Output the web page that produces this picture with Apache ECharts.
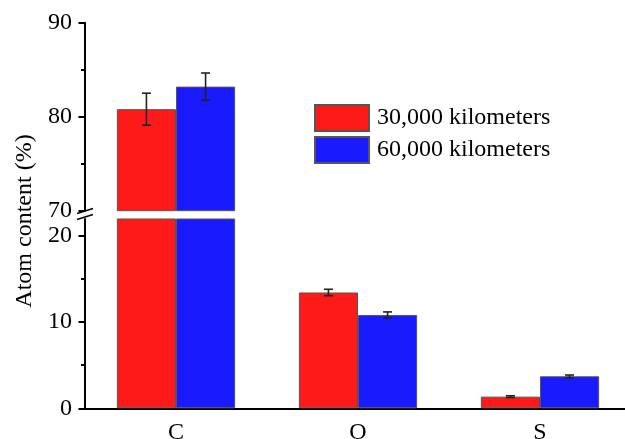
<!DOCTYPE html>
<html>
<head>
<meta charset="utf-8">
<script src="https://cdn.jsdelivr.net/npm/echarts@6/dist/echarts.min.js"></script>
<style>
html,body{margin:0;padding:0;background:#fff;}
#chart{width:625px;height:439px;}
</style>
</head>
<body>
<div id="chart"></div>
<script>
const categories = ['C', 'O', 'S'];
const seriesNames = ['30,000 kilometers', '60,000 kilometers'];
const values30 = [80.8, 13.4, 1.35];
const values60 = [83.2, 10.8, 3.7];
const err30 = [1.7, 0.37, 0.1];
const err60 = [1.45, 0.35, 0.15];
const upperTicks = [70, 80, 90];
const lowerTicks = [0, 10, 20];
const lowerMinorTicks = [5, 15];
const upperMin = 70, upperMax = 90;
const lowerMin = 0, lowerMax = 21.9;

const FONT = "'Liberation Serif', 'Times New Roman', serif";
const FS = 24;
const RED = '#FF1A1A', BLUE = '#1A1AFF';
const GAP = 0.35;

const chart = echarts.init(document.getElementById('chart'), null, {renderer: 'canvas'});

function errData(vals, errs, sign, lo, hi) {
  const out = [];
  vals.forEach((v, i) => { if (v >= lo && v <= hi) out.push([i, v, errs[i], sign]); });
  return out;
}
function renderErr(params, api) {
  const i = api.value(0), v = api.value(1), e = api.value(2), s = api.value(3);
  const band = api.size([1, 0])[0];
  const c = api.coord([i, v]);
  const cx = c[0] + s * band * (1 - GAP) / 4;
  const yt = api.coord([i, v + e])[1];
  const yb = api.coord([i, v - e])[1];
  const hw = 4.5;
  const st = {stroke: '#222', lineWidth: 1.6};
  return {type: 'group', children: [
    {type: 'line', shape: {x1: cx, y1: yt, x2: cx, y2: yb}, style: st},
    {type: 'line', shape: {x1: cx - hw, y1: yt, x2: cx + hw, y2: yt}, style: st},
    {type: 'line', shape: {x1: cx - hw, y1: yb, x2: cx + hw, y2: yb}, style: st}
  ]};
}

const axisLineStyle = {color: '#000', width: 2};
const labelStyle = {color: '#000', fontFamily: FONT, fontSize: FS};
const barStyle = (c) => ({color: c, borderColor: '#555', borderWidth: 1});

const option = {
  backgroundColor: '#fff',
  animation: false,
  legend: {
    data: seriesNames,
    orient: 'vertical',
    left: 314, top: 104, padding: 0,
    itemWidth: 54, itemHeight: 26, itemGap: 4,
    icon: 'rect',
    textStyle: {color: '#000', fontFamily: FONT, fontSize: FS, padding: [0, 0, 0, 3]}
  },
  grid: [
    {left: 85, top: 22.7, width: 546, height: 188, containLabel: false, outerBoundsMode: 'none'},
    {left: 85, top: 219, width: 546, height: 189.3, containLabel: false, outerBoundsMode: 'none'}
  ],
  xAxis: [
    {type: 'category', gridIndex: 0, data: categories, show: false},
    {type: 'category', gridIndex: 1, data: categories, position: 'bottom',
      axisLine: {lineStyle: axisLineStyle},
      axisTick: {alignWithLabel: true, length: 6.5, lineStyle: {color: '#000', width: 2}},
      axisLabel: Object.assign({margin: 12.5}, labelStyle),
      splitLine: {show: false}},
    {type: 'category', gridIndex: 1, data: categories, position: 'bottom',
      axisLine: {show: false},
      axisTick: {alignWithLabel: false, length: 3.5, lineStyle: {color: '#000', width: 2}},
      axisLabel: {show: false}, splitLine: {show: false}}
  ],
  yAxis: [
    {type: 'value', gridIndex: 0, min: upperMin, max: upperMax, interval: 10,
      axisLine: {show: true, lineStyle: axisLineStyle},
      axisTick: {show: true, length: 6.5, lineStyle: {color: '#000', width: 2}},
      minorTick: {show: true, splitNumber: 2, length: 4, lineStyle: {color: '#000', width: 2}},
      axisLabel: Object.assign({margin: 13, customValues: upperTicks}, labelStyle),
      splitLine: {show: false}, minorSplitLine: {show: false}},
    {type: 'value', gridIndex: 1, min: lowerMin, max: lowerMax,
      axisLine: {show: true, lineStyle: axisLineStyle},
      axisTick: {show: true, length: 6.5, customValues: lowerTicks, lineStyle: {color: '#000', width: 2}},
      axisLabel: Object.assign({margin: 13, customValues: lowerTicks}, labelStyle),
      splitLine: {show: false}},
    {type: 'value', gridIndex: 1, min: lowerMin, max: lowerMax, position: 'left',
      axisLine: {show: false},
      axisTick: {show: true, length: 4, customValues: lowerMinorTicks, lineStyle: {color: '#000', width: 2}},
      axisLabel: {show: false}, splitLine: {show: false}}
  ],
  graphic: [
    {type: 'text', rotation: Math.PI / 2,
      x: 25, y: 221,
      style: {text: 'Atom content (%)', font: FS + 'px ' + FONT, fill: '#000', align: 'center', verticalAlign: 'middle'}},
    {type: 'line', shape: {x1: 77, y1: 213.5, x2: 93, y2: 208.5}, style: {stroke: '#000', lineWidth: 1.5}},
    {type: 'line', shape: {x1: 77, y1: 219.5, x2: 93, y2: 214.5}, style: {stroke: '#000', lineWidth: 1.5}}
  ],
  series: [
    {name: seriesNames[0], type: 'bar', xAxisIndex: 0, yAxisIndex: 0,
      data: values30.map(v => v >= upperMin ? v : '-'),
      barGap: '0%', barCategoryGap: '35%', itemStyle: barStyle(RED)},
    {name: seriesNames[1], type: 'bar', xAxisIndex: 0, yAxisIndex: 0,
      data: values60.map(v => v >= upperMin ? v : '-'),
      barGap: '0%', barCategoryGap: '35%', itemStyle: barStyle(BLUE)},
    {name: seriesNames[0], type: 'bar', xAxisIndex: 1, yAxisIndex: 1,
      data: values30, clip: true,
      barGap: '0%', barCategoryGap: '35%', itemStyle: barStyle(RED)},
    {name: seriesNames[1], type: 'bar', xAxisIndex: 1, yAxisIndex: 1,
      data: values60, clip: true,
      barGap: '0%', barCategoryGap: '35%', itemStyle: barStyle(BLUE)},
    {type: 'custom', xAxisIndex: 0, yAxisIndex: 0, z: 5, renderItem: renderErr,
      data: errData(values30, err30, -1, upperMin, upperMax).concat(errData(values60, err60, 1, upperMin, upperMax))},
    {type: 'custom', xAxisIndex: 1, yAxisIndex: 1, z: 5, renderItem: renderErr,
      data: errData(values30, err30, -1, lowerMin, lowerMax).concat(errData(values60, err60, 1, lowerMin, lowerMax))}
  ]
};
chart.setOption(option);
</script>
</body>
</html>
